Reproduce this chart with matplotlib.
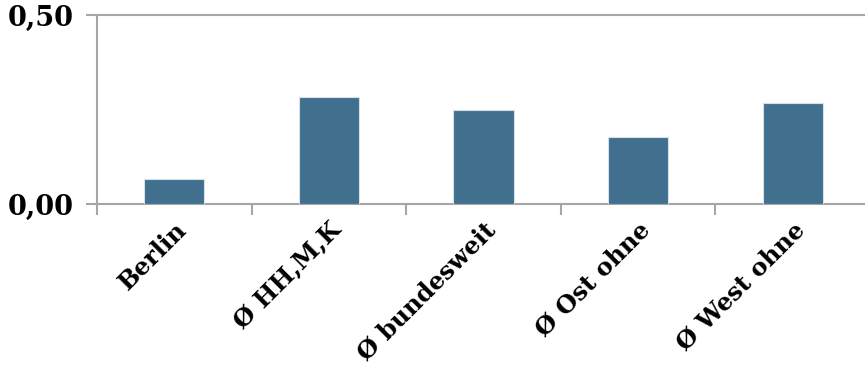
import matplotlib
matplotlib.use("Agg")
import matplotlib.pyplot as plt
from matplotlib.ticker import FixedLocator, NullFormatter

categories = ["Berlin", "Ø HH,M,K", "Ø bundesweit", "Ø Ost ohne", "Ø West ohne"]
values = [0.067, 0.282, 0.250, 0.178, 0.268]
y_ticks = [0.0, 0.5]
y_tick_labels = ["0,00", "0,50"]

W, H = 865, 374
fig = plt.figure(figsize=(W / 100, H / 100), dpi=100)
left, right, top, bottom = 97, 870, 15, 204
ax = fig.add_axes([left / W, (H - bottom) / H, (right - left) / W, (bottom - top) / H])

font = dict(family=["DejaVu Serif"], weight="bold")
spine_color = "#a6a6a6"

x = list(range(len(categories)))
ax.bar(x, values, width=0.39, color="#41708f", edgecolor="#d6e0e8", linewidth=0.8, zorder=3)

ax.set_xlim(-0.5, len(categories) - 0.5)
ax.set_ylim(0, 0.5)

ax.spines["right"].set_visible(False)
ax.spines["top"].set_visible(False)
ax.axhline(0.5, color=spine_color, lw=1.5, zorder=1, clip_on=False)
for s in ("left", "bottom"):
    ax.spines[s].set_color(spine_color)
    ax.spines[s].set_linewidth(1.5)

ax.set_yticks(y_ticks)
ax.set_yticklabels(y_tick_labels, fontsize=19.5, **font)
ax.tick_params(axis="y", length=8, width=1.5, color=spine_color, pad=9)

# category boundaries carry the tick marks, labels sit at category centres
ax.xaxis.set_major_locator(FixedLocator([i - 0.5 for i in range(len(categories) + 1)]))
ax.xaxis.set_major_formatter(NullFormatter())
ax.tick_params(axis="x", which="major", length=8, width=1.5, color=spine_color)
ax.xaxis.set_minor_locator(FixedLocator(x))
ax.set_xticklabels(categories, minor=True, rotation=45, ha="right",
                   rotation_mode="anchor", fontsize=17.5, **font)
ax.tick_params(axis="x", which="minor", length=0, pad=10)

fig.savefig("out.png", dpi=100)
